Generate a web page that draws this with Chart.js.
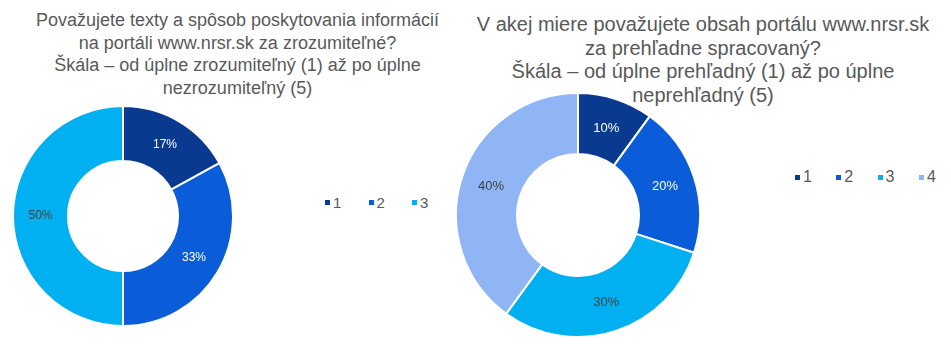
<!DOCTYPE html>
<html>
<head>
<meta charset="utf-8">
<script src="https://cdn.jsdelivr.net/npm/chart.js@4.4.0/dist/chart.umd.min.js"></script>
<style>
  html, body { margin: 0; padding: 0; background: #fff; }
  body { width: 951px; height: 355px; position: relative; overflow: hidden; font-family: "Liberation Sans", Arial, sans-serif; }
  .title { position: absolute; text-align: center; color: #595959; white-space: nowrap; }
  .legend { position: absolute; display: flex; align-items: center; color: #595959; white-space: nowrap; width: 200px; }
  .legend .item { display: flex; align-items: center; flex-shrink: 0; }
  .legend .box { width: 5px; height: 5px; margin-right: 3px; flex-shrink: 0; }
  .cv { position: absolute; }
</style>
</head>
<body>
<div id="t1" class="title" style="left:0; width:475px; top:9px; font-size:18px; line-height:22.5px;"></div>
<div id="t2" class="title" style="left:455px; width:496px; top:13px; font-size:20px; line-height:23.5px;"></div>
<div id="lg1" class="legend" style="left:325px; top:193px; height:18px; font-size:15px;"></div>
<div id="lg2" class="legend" style="left:795px; top:168px; height:18px; font-size:16px;"></div>
<div class="cv" style="left:12px; top:105px; width:222px; height:222px;"><canvas id="c1"></canvas></div>
<div class="cv" style="left:455px; top:92px; width:246px; height:246px;"><canvas id="c2"></canvas></div>
<script>
const titleLeft = [
  "Považujete texty a spôsob poskytovania informácií",
  "na portáli www.nrsr.sk za zrozumiteľné?",
  "Škála – od úplne zrozumiteľný (1) až po úplne",
  "nezrozumiteľný (5)"
];
const titleRight = [
  "V akej miere považujete obsah portálu www.nrsr.sk",
  "za prehľadne spracovaný?",
  "Škála – od úplne prehľadný (1) až po úplne",
  "neprehľadný (5)"
];
const categoriesLeft = ["1", "2", "3"];
const valuesLeft = [17, 33, 50];
const categoriesRight = ["1", "2", "3", "4"];
const valuesRight = [10, 20, 30, 40];
const colors = ["#0A3A8F", "#0B5CD8", "#00B0F0", "#8FB5F5"];
const labelColors = ["#FFFFFF", "#FFFFFF", "#404040", "#404040"];

document.getElementById('t1').innerHTML = titleLeft.join('<br>');
document.getElementById('t2').innerHTML = titleRight.join('<br>');

function buildLegend(id, cats, step) {
  const el = document.getElementById(id);
  cats.forEach((c, i) => {
    const it = document.createElement('div');
    it.className = 'item';
    it.style.width = step + 'px';
    const b = document.createElement('span');
    b.className = 'box';
    b.style.background = colors[i];
    const t = document.createElement('span');
    t.textContent = c;
    it.appendChild(b); it.appendChild(t);
    el.appendChild(it);
  });
}
buildLegend('lg1', categoriesLeft, 43.5);
buildLegend('lg2', categoriesRight, 41.3);

function pctLabels(fontSize) {
  return {
    id: 'pctLabels',
    afterDatasetsDraw(chart) {
      const ctx = chart.ctx;
      const meta = chart.getDatasetMeta(0);
      const ds = chart.data.datasets[0];
      ctx.save();
      ctx.font = fontSize + 'px "Liberation Sans", Arial, sans-serif';
      ctx.textAlign = 'center';
      ctx.textBaseline = 'middle';
      meta.data.forEach((arc, i) => {
        const p = arc.tooltipPosition();
        ctx.fillStyle = labelColors[i];
        ctx.fillText(ds.data[i] + '%', p.x, p.y);
      });
      ctx.restore();
    }
  };
}

function makeChart(id, cats, vals, fs) {
  return new Chart(document.getElementById(id), {
    type: 'doughnut',
    data: {
      labels: cats,
      datasets: [{
        data: vals,
        backgroundColor: colors.slice(0, vals.length),
        borderColor: '#FFFFFF',
        borderWidth: 2,
        hoverOffset: 0
      }]
    },
    options: {
      responsive: true,
      maintainAspectRatio: false,
      animation: false,
      cutout: '50%',
      layout: { padding: 0 },
      plugins: { legend: { display: false }, tooltip: { enabled: false }, title: { display: false } }
    },
    plugins: [pctLabels(fs)]
  });
}
makeChart('c1', categoriesLeft, valuesLeft, 12);
makeChart('c2', categoriesRight, valuesRight, 13);
</script>
</body>
</html>
